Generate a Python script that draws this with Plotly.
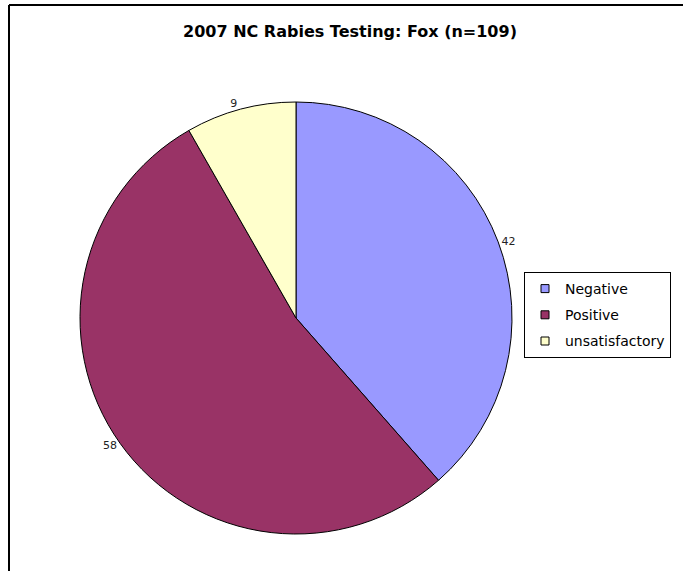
import plotly.graph_objects as go

categories = ["Negative", "Positive", "unsatisfactory"]
counts = [42, 58, 9]
colors = ["#9999FF", "#993366", "#FFFFCC"]
title_text = "2007 NC Rabies Testing: Fox (n=109)"

W, H = 683, 571
cx, cy, r = 296, 318, 216

fig = go.Figure()
fig.add_trace(go.Pie(
    labels=categories,
    values=counts,
    sort=False,
    direction="clockwise",
    rotation=0,
    marker=dict(colors=colors, line=dict(color="#000000", width=1)),
    textinfo="value",
    textposition="outside",
    outsidetextfont=dict(family="DejaVu Sans", size=11, color="#222222"),
    domain=dict(x=[(cx - r) / W, (cx + r) / W],
                y=[(H - cy - r) / H, (H - cy + r) / H]),
    hoverinfo="label+value",
    showlegend=False,
))

# legend entries (one per category, same colours as the slices)
for cat, col in zip(categories, colors):
    fig.add_trace(go.Scatter(
        x=[None], y=[None], mode="markers", name=cat, legendgroup=cat,
        marker=dict(symbol="square", size=8, color=col,
                    line=dict(color="#000000", width=1)),
        hoverinfo="skip",
    ))

fig.update_layout(
    width=W, height=H,
    margin=dict(l=0, r=0, t=0, b=0),
    paper_bgcolor="white",
    plot_bgcolor="white",
    xaxis=dict(visible=False),
    yaxis=dict(visible=False),
    title=dict(text="<b>" + title_text + "</b>", x=350 / W, xanchor="center",
               y=1 - 31 / H, yanchor="middle",
               font=dict(family="DejaVu Sans", size=16, color="#000000")),
    legend=dict(x=524 / W, xanchor="left", y=1 - 272 / H, yanchor="top",
                bordercolor="#000000", borderwidth=1, bgcolor="white",
                font=dict(family="DejaVu Sans", size=14, color="#000000"),
                traceorder="grouped", tracegroupgap=5, itemwidth=30),
    shapes=[
        dict(type="line", xref="paper", yref="paper", x0=9 / W, x1=1.01,
             y0=1 - 5 / H, y1=1 - 5 / H, line=dict(color="#000000", width=2)),
        dict(type="line", xref="paper", yref="paper", x0=9 / W, x1=9 / W,
             y0=-0.01, y1=1 - 5 / H, line=dict(color="#000000", width=2)),
    ],
)

fig.write_html("out.html", config={"displayModeBar": False},
               post_script="document.body.style.margin='0px';")
